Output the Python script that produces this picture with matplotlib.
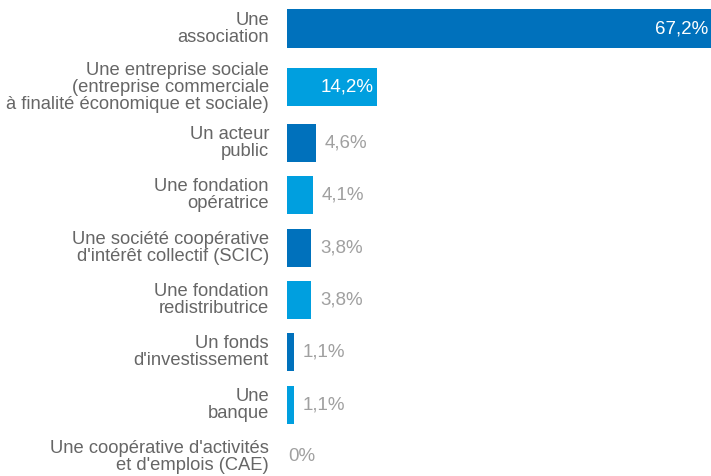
import numpy as np
import matplotlib.pyplot as plt

# Donnees
categories = ["Une\nassociation",
              "Une entreprise sociale\n(entreprise commerciale\nà finalité économique et sociale)",
              "Un acteur\npublic",
              "Une fondation\nopératrice",
              "Une société coopérative\nd'intérêt collectif (SCIC)",
              "Une fondation\nredistributrice",
              "Un fonds\nd'investissement",
              "Une\nbanque",
              "Une coopérative d'activités\net d'emplois (CAE)"]
valeurs = [67.2, 14.2, 4.6, 4.1, 3.8, 3.8, 1.1, 1.1, 0.0]
etiquettes = ["67,2%", "14,2%", "4,6%", "4,1%", "3,8%", "3,8%", "1,1%", "1,1%", "0%"]

bleu_fonce = "#0071bc"
bleu_clair = "#009fdf"
couleurs = [bleu_fonce if i % 2 == 0 else bleu_clair for i in range(len(valeurs))]

plt.rcParams['font.family'] = ['Liberation Sans', 'DejaVu Sans']

fig = plt.figure(figsize=(7.11, 4.76), dpi=100)
ax = fig.add_axes([287 / 711, 0, 1 - 287 / 711, 1])

# position des lignes (la 2e ligne a trois lignes de texte)
pos = np.arange(len(valeurs), dtype=float)
pos[1:] += 0.12
pos[2:] += 0.07

ax.barh(pos, valeurs, height=0.727, color=couleurs)
ax.set_xlim(0, 67.2)
ax.set_ylim(8.556, -0.545)
ax.axis("off")

px = 67.2 / 424  # unites de donnees par pixel
for y, v, lab, cat in zip(pos, valeurs, etiquettes, categories):
    if v > 10:
        ax.text(v - 3 * px, y, lab, ha="right", va="center", color="white",
                fontsize=13.5)
    else:
        dx = 9 * px if v > 0 else 1 * px
        ax.text(v + dx, y, lab, ha="left", va="center", color="#a0a0a0",
                fontsize=13.5)
    ax.text(-18 * px, y, cat, ha="right", va="center", color="#666666",
            fontsize=13.2, linespacing=1.0, clip_on=False)

fig.savefig("out.png", dpi=100)
